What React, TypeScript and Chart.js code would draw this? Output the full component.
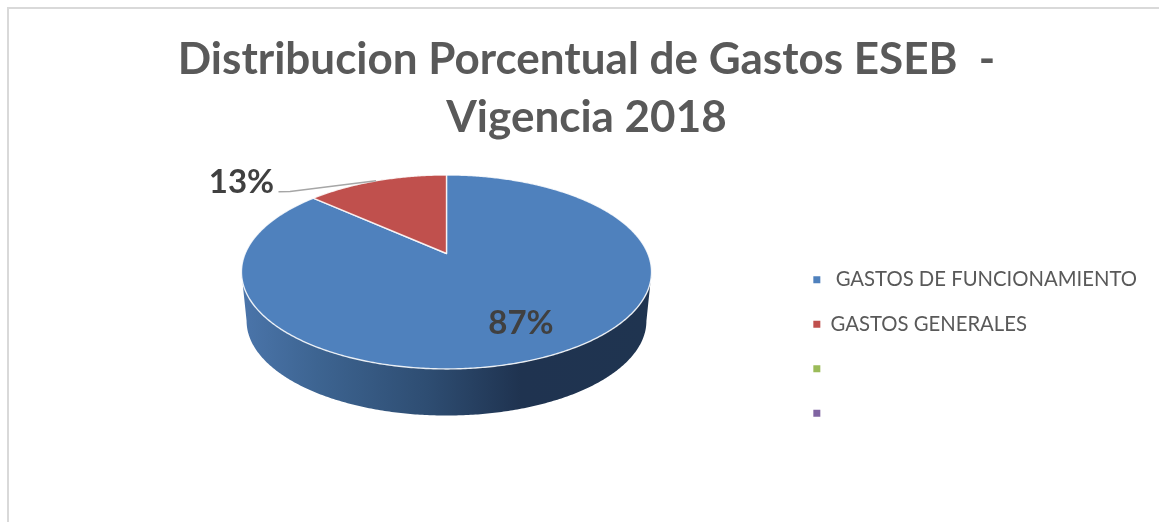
import React, { useEffect, useRef } from "react";
import { Chart, registerables } from "chart.js";

Chart.register(...registerables);

const titleLines = ["Distribucion Porcentual de Gastos ESEB  -", "Vigencia 2018"];
const categories = [" GASTOS DE FUNCIONAMIENTO", "GASTOS GENERALES", "", ""];
const shares = [86.6, 13.4, 0, 0];
const sliceColors = ["#4f81bd", "#c0504d", "#9bbb59", "#8064a2"];

const FONT = "Lato, Carlito, 'Open Sans', sans-serif";
const INK = "#595959";
const LABEL_INK = "#404040";

// Perspective projection of the pie's disc onto the page.
const CX = 446.5;
const APEX_Y = 253.5;
const RX = 201.3;
const RY = 93.5;
const K = 0.19;
const DEPTH_Y = 49.5;
const DEPTH_SCALE = 0.975;

function project(angle: number, depth = false) {
  const u = Math.cos(angle);
  const v = Math.sin(angle);
  const d = 1 - K * v;
  const s = depth ? DEPTH_SCALE : 1;
  return {
    x: CX + (s * RX * u) / d,
    y: APEX_Y + (depth ? DEPTH_Y : 0) + (s * RY * v) / d,
  };
}

function traceArc(ctx: CanvasRenderingContext2D, a0: number, a1: number, depth = false, first = false) {
  const steps = Math.max(2, Math.ceil(Math.abs(a1 - a0) / 0.01));
  for (let i = 0; i <= steps; i++) {
    const p = project(a0 + ((a1 - a0) * i) / steps, depth);
    if (i === 0 && first) ctx.moveTo(p.x, p.y);
    else ctx.lineTo(p.x, p.y);
  }
}

const pie3d = {
  id: "pie3d",
  beforeDatasetsDraw(chart: any) {
    const ctx: CanvasRenderingContext2D = chart.ctx;
    const arcs = chart.getDatasetMeta(0).data;
    const total = shares.reduce((a, b) => a + b, 0);
    ctx.save();

    // Side wall, between the widest points of the top and bottom rims
    const wall = ctx.createLinearGradient(245, 0, 650, 0);
    wall.addColorStop(0, "#4a74a9");
    wall.addColorStop(0.18, "#3d6491");
    wall.addColorStop(0.45, "#2e4d72");
    wall.addColorStop(0.68, "#1f3350");
    wall.addColorStop(1, "#1f3450");
    const t0 = Math.asin(K);
    ctx.beginPath();
    traceArc(ctx, t0, Math.PI - t0, true, true);
    traceArc(ctx, Math.PI - t0, t0, false);
    ctx.closePath();
    ctx.fillStyle = wall;
    ctx.fill();

    // Top face, from the library's arc angles
    arcs.forEach((arc: any, i: number) => {
      if (!(shares[i] > 0)) return;
      ctx.beginPath();
      ctx.moveTo(CX, APEX_Y);
      traceArc(ctx, arc.startAngle, arc.endAngle);
      ctx.closePath();
      ctx.fillStyle = sliceColors[i];
      ctx.fill();
      ctx.strokeStyle = "rgba(255,255,255,0.85)";
      ctx.lineWidth = 1.4;
      ctx.lineJoin = "round";
      ctx.stroke();
    });

    // Leader line
    ctx.beginPath();
    ctx.moveTo(278.5, 191.8);
    ctx.lineTo(290, 191.6);
    ctx.lineTo(376, 180.8);
    ctx.strokeStyle = "#a6a6a6";
    ctx.lineWidth = 1.5;
    ctx.stroke();

    // Percentage labels
    ctx.font = `bold 33px ${FONT}`;
    ctx.fillStyle = LABEL_INK;
    ctx.textAlign = "center";
    ctx.textBaseline = "middle";
    ctx.fillText(`${Math.round((shares[0] / total) * 100)}%`, 521, 323);
    ctx.fillText(`${Math.round((shares[1] / total) * 100)}%`, 241.5, 182);
    ctx.restore();
    return false;
  },
};

export default function App() {
  const ref = useRef<HTMLCanvasElement>(null);
  useEffect(() => {
    const chart = new Chart(ref.current!, {
      type: "pie",
      data: {
        labels: categories,
        datasets: [{ data: shares, backgroundColor: sliceColors, borderWidth: 0 }],
      },
      options: {
        responsive: false,
        animation: false,
        rotation: 0,
        layout: { padding: { left: 26, right: 12, top: 0, bottom: 0 } },
        plugins: {
          tooltip: { enabled: false },
          title: {
            display: true,
            text: titleLines,
            color: INK,
            font: { family: FONT, size: 44, weight: "bold", lineHeight: 1.32 },
            padding: { top: 31, bottom: 24 },
          },
          legend: {
            display: true,
            position: "right",
            align: "center",
            fullSize: false,
            labels: {
              color: INK,
              font: { family: FONT, size: 20.3 },
              boxWidth: 7,
              boxHeight: 7,
              padding: 24.2,
            },
          },
        },
      } as any,
      plugins: [pie3d],
    });
    return () => chart.destroy();
  }, []);
  return (
    <div style={{ position: "absolute", left: 0, top: 0, width: 1159, height: 522, background: "#fff", overflow: "hidden" }}>
      <div style={{ position: "absolute", left: 7, top: 7, width: 1152, height: 515, borderLeft: "2px solid #d9d9d9", borderTop: "2px solid #d9d9d9", boxSizing: "border-box" }} />
      <canvas ref={ref} width={1159} height={522} style={{ position: "absolute", left: 0, top: 0, display: "block" }} />
    </div>
  );
}
